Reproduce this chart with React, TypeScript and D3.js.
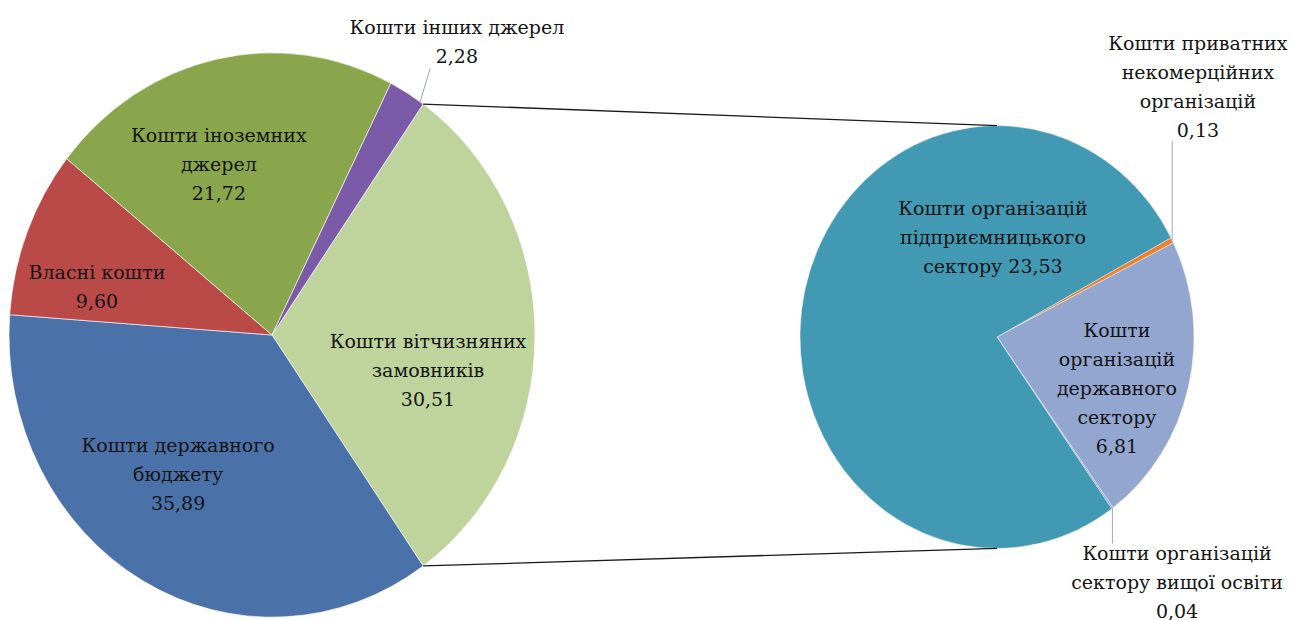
import React from "react";
import * as d3 from "d3";

// ---- Data ----
const mainCategories = [
  "Кошти вітчизняних замовників",
  "Кошти державного бюджету",
  "Власні кошти",
  "Кошти іноземних джерел",
  "Кошти інших джерел",
];
const mainValues = [30.51, 35.89, 9.6, 21.72, 2.28];
const mainLabels = [
  ["Кошти вітчизняних", "замовників", "30,51"],
  ["Кошти державного", "бюджету", "35,89"],
  ["Власні кошти", "9,60"],
  ["Кошти іноземних", "джерел", "21,72"],
  ["Кошти інших джерел", "2,28"],
];

const subCategories = [
  "Кошти приватних некомерційних організацій",
  "Кошти організацій державного сектору",
  "Кошти організацій сектору вищої освіти",
  "Кошти організацій підприємницького сектору",
];
const subValues = [0.13, 6.81, 0.04, 23.53];
const subLabels = [
  ["Кошти приватних", "некомерційних", "організацій", "0,13"],
  ["Кошти", "організацій", "державного", "сектору", "6,81"],
  ["Кошти організацій", "сектору вищої освіти", "0,04"],
  ["Кошти організацій", "підприємницького", "сектору 23,53"],
];

// ---- Styles / layout ----
const mainColors = ["#bfd39c", "#4a71a8", "#b94a48", "#8aa64c", "#7b5aa8"];
const subColors = ["#f0802c", "#93a6d0", "#8fa2cc", "#4299b3"];
// label placement: [angle deg (clockwise from top), radius fraction]
const mainLabelPlace: [number, number][] = [
  [101.8, 0.606],
  [215.9, 0.609],
  [284.4, 0.687],
  [341.5, 0.637],
  [34.1, 1.254],
];
const subLabelPlace: [number, number][] = [
  [40.7, 1.564],
  [111.6, 0.655],
  [141.8, 1.478],
  [357.5, 0.47],
];

const W = 1297;
const H = 620;
const SY = 1.073;
const C1 = { x: 272, y: 335, r: 263 };
const C2 = { x: 997, y: 337, r: 197 };
const LH = 29;
const FONT = "DejaVu Serif";
const FS = 19;

const deg = (d: number) => (d * Math.PI) / 180;

function polar(c: { x: number; y: number; r: number }, angDeg: number, frac: number) {
  const a = deg(angDeg);
  return {
    x: c.x + Math.sin(a) * c.r * frac,
    y: c.y - Math.cos(a) * c.r * frac * SY,
  };
}

function Label({ x, y, lines }: { x: number; y: number; lines: string[] }) {
  const n = lines.length;
  return (
    <text
      x={x}
      textAnchor="middle"
      fontFamily={FONT}
      fontSize={FS}
      fill="#141414"
    >
      {lines.map((l, i) => (
        <tspan key={i} x={x} y={y + (i - (n - 1) / 2) * LH + FS * 0.35}>
          {l}
        </tspan>
      ))}
    </text>
  );
}

export default function App() {
  const mainFrac = mainValues[0] / d3.sum(mainValues);
  const mainStart = Math.PI / 2 - mainFrac * Math.PI;
  const mainPie = d3
    .pie<number>()
    .sort(null)
    .startAngle(mainStart)
    .endAngle(mainStart + 2 * Math.PI)(mainValues);

  const subStart = deg(62);
  const subPie = d3
    .pie<number>()
    .sort(null)
    .startAngle(subStart)
    .endAngle(subStart + 2 * Math.PI)(subValues);

  const arc1 = d3.arc<d3.PieArcDatum<number>>().innerRadius(0).outerRadius(C1.r);
  const arc2 = d3.arc<d3.PieArcDatum<number>>().innerRadius(0).outerRadius(C2.r);

  const split = mainPie[0];
  const pTop = polar(C1, (split.startAngle * 180) / Math.PI, 1);
  const pBot = polar(C1, (split.endAngle * 180) / Math.PI, 1);
  const qTop = { x: C2.x, y: C2.y - C2.r * SY };
  const qBot = { x: C2.x, y: C2.y + C2.r * SY };

  const purple = mainPie[4];
  const purpleEdge = polar(C1, (purple.endAngle * 180) / Math.PI - 0.8, 1);
  const purpleLbl = polar(C1, mainLabelPlace[4][0], mainLabelPlace[4][1]);

  const orange = subPie[0];
  const orangeEdge = polar(C2, (((orange.startAngle + orange.endAngle) / 2) * 180) / Math.PI, 1);
  const orangeLbl = polar(C2, subLabelPlace[0][0], subLabelPlace[0][1]);
  const tiny = subPie[2];
  const tinyEdge = polar(C2, (((tiny.startAngle + tiny.endAngle) / 2) * 180) / Math.PI, 1);
  const tinyLbl = polar(C2, subLabelPlace[2][0], subLabelPlace[2][1]);

  return (
    <svg
      width={W}
      height={H}
      style={{ position: "absolute", left: 0, top: 0, background: "#fff" }}
    >
      <g transform={`translate(${C1.x},${C1.y}) scale(1,${SY})`}>
        {mainPie.map((d, i) => (
          <path key={i} d={arc1(d) || ""} fill={mainColors[i]} stroke="#ffffff" strokeWidth={0.6} />
        ))}
      </g>
      <g transform={`translate(${C2.x},${C2.y}) scale(1,${SY})`}>
        {subPie.map((d, i) => (
          <path key={i} d={arc2(d) || ""} fill={subColors[i]} stroke="#ffffff" strokeWidth={0.4} />
        ))}
      </g>
      <line x1={pTop.x} y1={pTop.y} x2={qTop.x} y2={qTop.y} stroke="#1a1a1a" strokeWidth={1.3} />
      <line x1={pBot.x} y1={pBot.y} x2={qBot.x} y2={qBot.y} stroke="#1a1a1a" strokeWidth={1.3} />

      <line
        x1={purpleEdge.x}
        y1={purpleEdge.y}
        x2={purpleEdge.x + 10}
        y2={purpleLbl.y + LH / 2 + 12}
        stroke="#8ea8c8"
        strokeWidth={1}
      />
      <line
        x1={orangeEdge.x}
        y1={orangeEdge.y}
        x2={orangeEdge.x}
        y2={orangeLbl.y + ((subLabels[0].length - 1) / 2) * LH + 11}
        stroke="#a8a8a8"
        strokeWidth={1}
      />
      <line
        x1={tinyEdge.x}
        y1={tinyEdge.y}
        x2={tinyEdge.x}
        y2={tinyLbl.y - ((subLabels[2].length - 1) / 2) * LH - 10}
        stroke="#a8a8a8"
        strokeWidth={1}
      />

      {mainPie.map((d, i) => {
        const p = polar(C1, mainLabelPlace[i][0], mainLabelPlace[i][1]);
        return <Label key={i} x={p.x} y={p.y} lines={mainLabels[i]} />;
      })}
      {subPie.map((d, i) => {
        const p = polar(C2, subLabelPlace[i][0], subLabelPlace[i][1]);
        return <Label key={i} x={p.x} y={p.y} lines={subLabels[i]} />;
      })}
    </svg>
  );
}
